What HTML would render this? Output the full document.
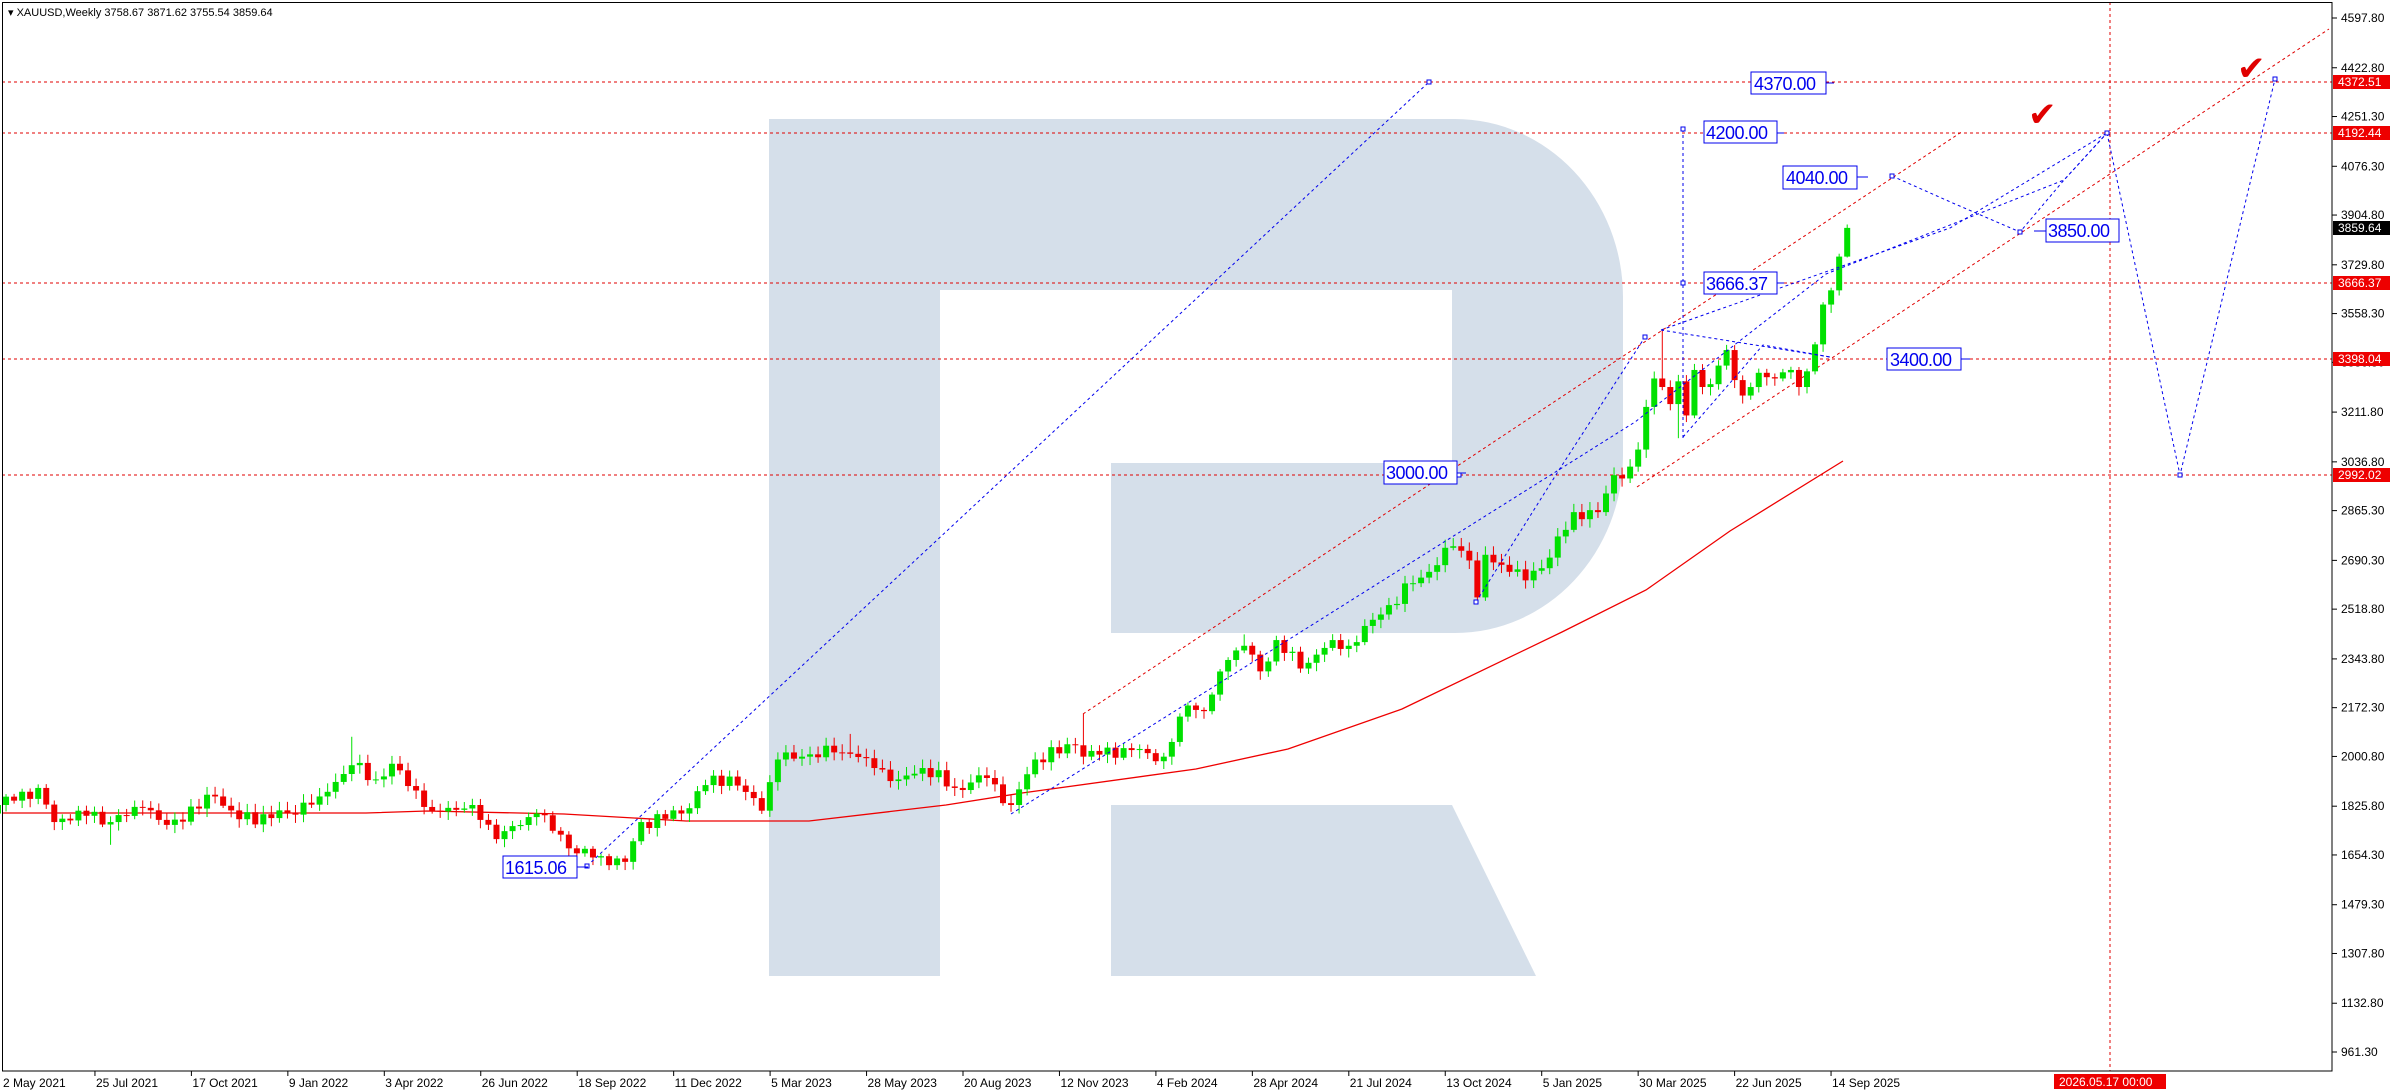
<!DOCTYPE html>
<html><head><meta charset="utf-8"><style>
html,body{margin:0;padding:0;background:#fff;width:2392px;height:1090px;overflow:hidden}
svg{display:block}
text{font-family:"Liberation Sans","DejaVu Sans",sans-serif}
</style></head><body>
<svg id="s" width="2392" height="1090" xmlns="http://www.w3.org/2000/svg">
<rect width="2392" height="1090" fill="#fff"/>
<!-- watermark R -->
<path d="M769,119 H1455 A168,178 0 0 1 1623,297 V455 A168,178 0 0 1 1455,633 H1111 V463 H1452 V290 H940 V976 H769 Z" fill="#d5dfea"/>
<path d="M1111,805 H1452 L1536,976 H1111 Z" fill="#d5dfea"/>
<g id="hl" stroke="#e00000" stroke-width="1" stroke-dasharray="3,3" fill="none">
<line x1="2" y1="82" x2="2332" y2="82"/>
<line x1="2" y1="133" x2="2332" y2="133"/>
<line x1="2" y1="283" x2="2332" y2="283"/>
<line x1="2" y1="359" x2="2332" y2="359"/>
<line x1="2" y1="475" x2="2332" y2="475"/>
<line x1="2110" y1="2" x2="2110" y2="1071"/>
<line x1="1083" y1="714" x2="1963" y2="131"/>
<line x1="1637" y1="487" x2="2329" y2="29"/>
</g>
<g id="ma"></g>
<g id="cd"></g>
<g stroke="#0000ee" stroke-width="1" stroke-dasharray="3,3" fill="none">
<line x1="587" y1="866" x2="1429" y2="82"/>
<polyline points="1011,814 1635,422 1826,274 2064,180 2107,133"/>
<polyline points="1476,602 1559,470 1645,337"/>
<polyline points="1661,330 1830,357"/>
<polyline points="1683,437 1763,345 1830,357"/>
<polyline points="1661,330 1950,228 2107,133"/>
<polyline points="1892,176 1955,204 2020,232 2064,180 2107,133"/>
<polyline points="2107,133 2180,475 2275,79"/>
<line x1="1683" y1="129" x2="1683" y2="440"/>
</g>
<g stroke="#0000ee" fill="#fff" stroke-width="1">
<rect x="1427" y="80" width="4" height="4"/><rect x="1681" y="127" width="4" height="4"/><rect x="1681" y="281" width="4" height="4"/>
<rect x="1890" y="174" width="4" height="4"/><rect x="2018" y="230" width="4" height="4"/><rect x="2105" y="131" width="4" height="4"/>
<rect x="2273" y="77" width="4" height="4"/><rect x="2178" y="473" width="4" height="4"/><rect x="1457" y="473" width="4" height="4"/>
<rect x="585" y="864" width="4" height="4"/><rect x="1643" y="335" width="4" height="4"/><rect x="1474" y="600" width="4" height="4"/>
</g>
<g font-size="18" fill="#0000ee" letter-spacing="-0.5">
<rect x="1751" y="72" width="75" height="22" fill="#fff" stroke="#0000ee"/><text x="1754" y="90">4370.00</text><line x1="1826" y1="83" x2="1834" y2="83" stroke="#0000ee"/>
<rect x="1704" y="121" width="73" height="22" fill="#fff" stroke="#0000ee"/><text x="1706" y="139">4200.00</text><line x1="1777" y1="133" x2="1784" y2="133" stroke="#0000ee"/>
<rect x="1783" y="166" width="74" height="23" fill="#fff" stroke="#0000ee"/><text x="1786" y="184">4040.00</text><line x1="1857" y1="177" x2="1868" y2="177" stroke="#0000ee"/>
<rect x="1704" y="272" width="73" height="22" fill="#fff" stroke="#0000ee"/><text x="1706" y="290">3666.37</text><line x1="1777" y1="283" x2="1784" y2="283" stroke="#0000ee"/>
<rect x="2046" y="219" width="73" height="23" fill="#fff" stroke="#0000ee"/><text x="2048" y="237">3850.00</text><line x1="2034" y1="231" x2="2046" y2="231" stroke="#0000ee"/>
<rect x="1887" y="348" width="74" height="22" fill="#fff" stroke="#0000ee"/><text x="1890" y="366">3400.00</text><line x1="1961" y1="359" x2="1970" y2="359" stroke="#0000ee"/>
<rect x="1384" y="461" width="73" height="23" fill="#fff" stroke="#0000ee"/><text x="1386" y="479">3000.00</text><line x1="1457" y1="473" x2="1466" y2="473" stroke="#0000ee"/>
<rect x="503" y="856" width="74" height="22" fill="#fff" stroke="#0000ee"/><text x="505" y="874">1615.06</text><line x1="577" y1="867" x2="588" y2="867" stroke="#0000ee"/>
</g>
<text x="2028" y="126" font-size="34" fill="#e00000" font-family="DejaVu Sans,sans-serif">✔</text>
<text x="2237" y="80" font-size="34" fill="#e00000" font-family="DejaVu Sans,sans-serif">✔</text>
<!-- frame -->
<rect x="2.5" y="2.5" width="2329.5" height="1068.5" fill="none" stroke="#000" stroke-width="1"/>
<g id="ax" font-size="12" fill="#000"></g>
<text x="8" y="16" font-size="11" fill="#000">▾ XAUUSD,Weekly  3758.67 3871.62 3755.54 3859.64</text>
</svg>
<script>
var NS="http://www.w3.org/2000/svg";
function el(p,t,a,tx){var e=document.createElementNS(NS,t);for(var k in a)e.setAttribute(k,a[k]);if(tx!=null)e.textContent=tx;p.appendChild(e);return e;}
function Y(p){return 18+(4597.8-p)*0.28434;}
function X(w){return -2+w*8.04;}
var A=[[0,1830],[5,1890],[7,1770],[10,1810],[14,1770],[18,1820],[21,1760],[27,1860],[30,1780],[36,1800],[40,1860],[44,1970],[47,1920],[49,1975],[54,1810],[59,1830],[62,1710],[67,1800],[72,1660],[75,1650],[78,1630],[80,1770],[85,1800],[88,1900],[91,1930],[95,1810],[97,1990],[100,2000],[104,2015],[106,2010],[109,1960],[112,1920],[115,1960],[119,1890],[123,1925],[126,1830],[129,1990],[134,2040],[135,2000],[140,2030],[145,2000],[148,2180],[150,2160],[153,2340],[155,2390],[157,2300],[159,2410],[162,2310],[166,2410],[168,2390],[172,2500],[176,2610],[178,2650],[181,2740],[183,2690],[184,2560],[185,2710],[188,2650],[190,2620],[193,2700],[196,2860],[199,2860],[201,2990],[203,3020],[204,3080],[205,3230],[206,3330],[207,3300],[208,3240],[209,3320],[210,3200],[211,3360],[212,3300],[213,3310],[215,3430],[217,3270],[219,3350],[221,3330],[223,3360],[224,3300],[226,3450],[227,3590],[228,3640],[229,3758.67],[230,3859.64]];
var C=[];
for(var i=0;i<A.length-1;i++){var a=A[i],b=A[i+1];for(var w=a[0];w<b[0];w++){var t=(w-a[0])/(b[0]-a[0]);var n=(w==a[0])?0:(Math.sin(w*2.7)*18+Math.sin(w*1.3)*10);C[w]=a[1]+(b[1]-a[1])*t+n;}}
C[230]=3859.64;
var cd=document.getElementById("cd");
var sp={14:[0,1690],44:[2070,0],106:[2080,0],135:[2150,0],155:[2430,0],207:[3500,0],209:[0,3120],230:[3871.62,3755.54]};
for(var w=0;w<=230;w++){var o=w?C[w-1]:1800,c=C[w];var hi=Math.max(o,c)+8+Math.abs(Math.sin(w*3.1))*22,lo=Math.min(o,c)-8-Math.abs(Math.cos(w*2.3))*22;
if(sp[w]){if(sp[w][0])hi=sp[w][0];if(sp[w][1])lo=sp[w][1];}
if(w==230)o=3758.67;
var col=c>=o?"#00e000":"#ee0000",x=X(w);
el(cd,"line",{x1:x,y1:Y(hi),x2:x,y2:Y(lo),stroke:col,"stroke-width":1});
var y1=Y(Math.max(o,c)),y2=Y(Math.min(o,c));if(y2-y1<1)y2=y1+1;
el(cd,"rect",{x:x-3,y:y1,width:6,height:y2-y1,fill:col});}
el(document.getElementById("ma"),"polyline",{points:"2,813 366,813 427,811 564,814 686,821 809,821 946,805 1022,793 1196,769 1288,749 1402,709 1562,632 1646,590 1730,531 1843,461",fill:"none",stroke:"#ee0000","stroke-width":1.3});
var ax=document.getElementById("ax");
var P=["4597.80","4422.80","4251.30","4076.30","3904.80","3729.80","3558.30","3386.80","3211.80","3036.80","2865.30","2690.30","2518.80","2343.80","2172.30","2000.80","1825.80","1654.30","1479.30","1307.80","1132.80","961.30"];
P.forEach(function(p){var y=Y(parseFloat(p));el(ax,"line",{x1:2332,y1:y,x2:2337,y2:y,stroke:"#000"});el(ax,"text",{x:2341,y:y+4},p);});
[["4372.51",82,"#ee0000"],["4192.44",133,"#ee0000"],["3859.64",228,"#000"],["3666.37",283,"#ee0000"],["3398.04",359,"#ee0000"],["2992.02",475,"#ee0000"]].forEach(function(l){el(ax,"rect",{x:2333,y:l[1]-7,width:57,height:14,fill:l[2]});el(ax,"text",{x:2338,y:l[1]+4,fill:"#fff"},l[0]);});
var D=["2 May 2021","25 Jul 2021","17 Oct 2021","9 Jan 2022","3 Apr 2022","26 Jun 2022","18 Sep 2022","11 Dec 2022","5 Mar 2023","28 May 2023","20 Aug 2023","12 Nov 2023","4 Feb 2024","28 Apr 2024","21 Jul 2024","13 Oct 2024","5 Jan 2025","30 Mar 2025","22 Jun 2025","14 Sep 2025"];
D.forEach(function(d,i){var x=-1.5+i*96.45;el(ax,"line",{x1:x,y1:1071,x2:x,y2:1076,stroke:"#000"});el(ax,"text",{x:Math.max(x+1,3),y:1087},d);});
el(ax,"rect",{x:2054,y:1074,width:112,height:15,fill:"#ee0000"});
el(ax,"text",{x:2059,y:1086,fill:"#fff"},"2026.05.17 00:00");
</script>
</body></html>
